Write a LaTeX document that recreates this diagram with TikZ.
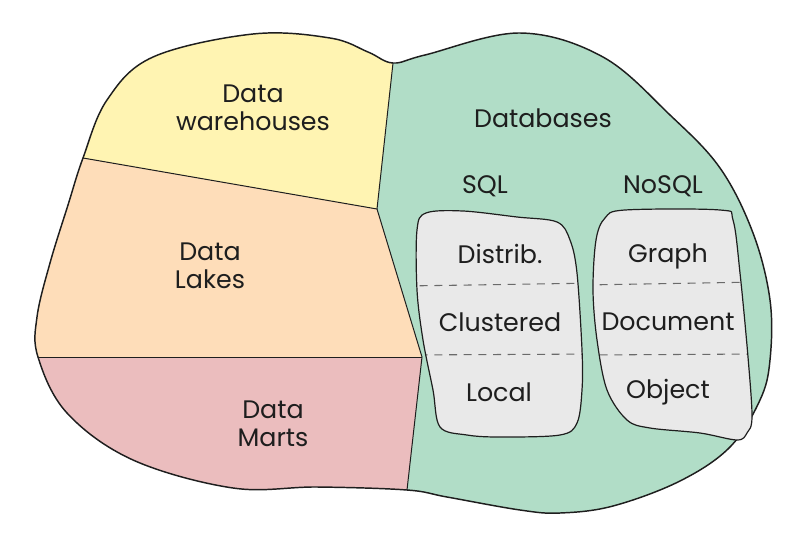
\documentclass[tikz,border=0pt]{standalone}
\usepackage{fontspec}
\setmainfont{Poppins}
\begin{document}
\begin{tikzpicture}[x=0.75pt,y=-0.75pt,
  ink/.style={draw=inkc,line width=1.1pt,line join=round},
  thin/.style={draw=inkc,line width=0.75pt},
  lbl/.style={text=inkc,font=\fontsize{19}{21}\selectfont,align=center,inner sep=0pt},
  sep/.style={draw=sepc,line width=0.8pt,dash pattern=on 6pt off 5pt},
  cellbox/.style={fill=boxc,draw=inkc,line width=0.9pt}]
\definecolor{inkc}{HTML}{1E1E1E}
\definecolor{sepc}{HTML}{6A6A6A}
\definecolor{yel}{HTML}{FFF4B2}
\definecolor{pea}{HTML}{FEDDB9}
\definecolor{rosec}{HTML}{EBBDBE}
\definecolor{grn}{HTML}{B1DDC7}
\definecolor{boxc}{HTML}{E9E9E9}
\useasboundingbox (0,0) rectangle (803,539);
\def\blob{plot[smooth cycle,tension=0.6] coordinates {(83,158) (107,100) (153,57) (253,34) (330,38) (368,52) (393,63) (425,55) (520,33) (603,57) (670,115) (720,168) (753,233) (770,300) (770,360) (760,400) (730,447) (680,481) (613,506) (560,513) (520,510) (447,497) (407,490) (317,487) (233,488) (133,460) (67,413) (38,357) (37,317) (50,263) (68,205)}}
% base fill
\fill[grn] \blob;
\begin{scope}
  \clip \blob;
  \fill[yel] (0,0) -- (398,0) -- (393,63) -- (377,209) -- (83,158) -- (0,144) -- cycle;
  \fill[pea] (0,144) -- (83,158) -- (377,209) -- (422,357) -- (0,357) -- cycle;
  \fill[rosec] (0,357) -- (422,357) -- (407,490) -- (405,539) -- (0,539) -- cycle;
  \draw[thin] (393,40) -- (393,63) -- (377,209) -- (422,357) -- (407,490) -- (406,520);
  \draw[thin] (0,144) -- (83,158) -- (377,209);
  \draw[thin] (0,357) -- (422,357);
\end{scope}
\draw[ink] \blob;
% SQL box
\def\sqlbox{plot[smooth cycle,tension=0.55] coordinates {(417,230) (426,213) (463,211) (517,217) (557,222) (570,240) (577,273) (582,350) (582,390) (577,423) (560,435) (500,437) (467,435) (440,427) (433,390) (423,340) (417,290)}}
\def\nosqlbox{plot[smooth cycle,tension=0.55] coordinates {(596,240) (605,218) (625,210) (720,210) (733,220) (740,273) (748,357) (752,417) (747,433) (737,440) (700,433) (650,428) (627,420) (607,390) (597,340) (593,290)}}
\fill[boxc] \sqlbox;
\fill[boxc] \nosqlbox;
\begin{scope}
  \clip \sqlbox;
  \draw[sep] (405,286) -- (600,283);
  \draw[sep] (405,355) -- (600,354);
\end{scope}
\begin{scope}
  \clip \nosqlbox;
  \draw[sep] (585,285) -- (760,282);
  \draw[sep] (585,355) -- (760,354);
\end{scope}
\draw[cellbox,fill=none] \sqlbox;
\draw[cellbox,fill=none] \nosqlbox;
% labels
\node[lbl] (dw) at (253,108) {Data\\warehouses};
\node[lbl] (dl) at (210,266) {Data\\Lakes};
\node[lbl] (dm) at (273,424) {Data\\Marts};
\node[lbl] (db) at (543,118) {Databases};
\node[lbl] (sql) at (485,186) {SQL};
\node[lbl] (nosql) at (663,186) {NoSQL};
\node[lbl] (dist) at (500,254) {Distrib.};
\node[lbl] (clus) at (500,322) {Clustered};
\node[lbl] (loc) at (499,392) {Local};
\node[lbl] (gra) at (668,256) {Graph};
\node[lbl] (doc) at (668,322) {Document};
\node[lbl] (obj) at (668,392) {Object};
\end{tikzpicture}
\end{document}
